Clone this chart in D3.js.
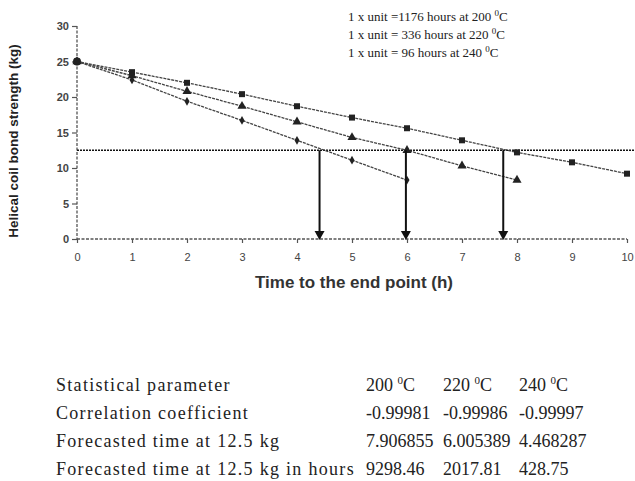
<!DOCTYPE html>
<html><head><meta charset="utf-8">
<script src="https://cdn.jsdelivr.net/npm/d3@7"></script>
<style>body{margin:0;background:#fff}svg{display:block}</style>
</head><body>
<svg id="c" width="635" height="481"></svg>
<script>
const xTicks = [0,1,2,3,4,5,6,7,8,9,10];
const yTicks = [0,5,10,15,20,25,30];
const s200 = [[0,25],[1,23.5],[2,22.0],[3,20.4],[4,18.7],[5,17.1],[6,15.6],[7,13.9],[8,12.2],[9,10.8],[10,9.2]];
const s220 = [[0,25],[1,23.0],[2,20.8],[3,18.7],[4,16.5],[5,14.3],[6,12.5],[7,10.3],[8,8.3]];
const s240 = [[0,25],[1,22.4],[2,19.4],[3,16.7],[4,13.9],[5,11.1],[6,8.3]];
const endPoint = 12.5;
const arrowX = [4.41, 5.98, 7.75];
const notes = [["1 x unit =1176 hours at 200 ","0","C"],["1 x unit = 336 hours at 220 ","0","C"],["1 x unit = 96 hours at 240 ","0","C"]];
const tableRows = [
  ["Statistical parameter","200","220","240"],
  ["Correlation coefficient","-0.99981","-0.99986","-0.99997"],
  ["Forecasted time at 12.5 kg","7.906855","6.005389","4.468287"],
  ["Forecasted time at 12.5 kg in hours","9298.46","2017.81","428.75"]
];

const svg = d3.select("#c");
const x = d3.scaleLinear().domain([0,10]).range([77,627]);
const y = d3.scaleLinear().domain([0,30]).range([239,26]);
const ink = "#222";

// axes
const ya = svg.append("g").attr("transform","translate(77,0)")
  .call(d3.axisLeft(y).tickValues(yTicks).tickSize(5).tickPadding(3));
ya.select(".domain").attr("stroke","#555").attr("stroke-dasharray","3,1.5").attr("stroke-width",1.3).attr("d","M0,26V239");
ya.selectAll(".tick line").attr("stroke","#555").attr("stroke-width",1.2);
ya.selectAll(".tick text").attr("font-family","Liberation Sans, Arial, sans-serif").attr("font-size",11).attr("fill","#444").attr("font-weight","bold");

const xa = svg.append("g").attr("transform","translate(0,239)")
  .call(d3.axisBottom(x).tickValues(xTicks).tickSize(4).tickPadding(10));
xa.select(".domain").attr("stroke","#555").attr("stroke-dasharray","3,1.5").attr("stroke-width",1.3).attr("d","M77,0H627");
xa.selectAll(".tick line").attr("stroke","#555").attr("stroke-width",1.2);
xa.selectAll(".tick text").attr("font-family","Liberation Sans, Arial, sans-serif").attr("font-size",11).attr("fill","#444");

// 12.5 line
svg.append("line").attr("x1",x(0)).attr("x2",635).attr("y1",y(endPoint)).attr("y2",y(endPoint))
  .attr("stroke","#111").attr("stroke-width",1.6).attr("stroke-dasharray","2,1");

// series lines
const line = d3.line().x(d=>x(d[0])).y(d=>y(d[1]));
[s200,s220,s240].forEach(s=>{
  svg.append("path").attr("d",line(s)).attr("fill","none").attr("stroke","#444")
    .attr("stroke-width",1.3).attr("stroke-dasharray","3,1");
});
// markers
svg.append("g").selectAll("path").data(s200).join("path")
  .attr("d",d3.symbol(d3.symbolSquare,36)).attr("transform",d=>`translate(${x(d[0])},${y(d[1])})`).attr("fill",ink);
svg.append("g").selectAll("path").data(s220).join("path")
  .attr("d",d3.symbol(d3.symbolTriangle,36)).attr("transform",d=>`translate(${x(d[0])},${y(d[1])})`).attr("fill",ink);
svg.append("g").selectAll("path").data(s240).join("path")
  .attr("d",d3.symbol(d3.symbolDiamond,22)).attr("transform",d=>`translate(${x(d[0])},${y(d[1])})`).attr("fill",ink);
svg.append("circle").attr("cx",x(0)).attr("cy",y(25)).attr("r",4).attr("fill",ink);

// arrows
arrowX.forEach(a=>{
  svg.append("line").attr("x1",x(a)).attr("x2",x(a)).attr("y1",y(endPoint)).attr("y2",y(0)-6)
    .attr("stroke","#111").attr("stroke-width",2);
  svg.append("path").attr("d",`M${x(a)-5},${y(0)-8}L${x(a)+5},${y(0)-8}L${x(a)},${y(0)+1}Z`).attr("fill","#111");
});

// axis titles
svg.append("text").attr("x",354).attr("y",288).attr("text-anchor","middle")
  .attr("font-family","Liberation Sans, Arial, sans-serif").attr("font-size",17).attr("font-weight","bold").attr("fill","#333")
  .text("Time to the end point (h)");
svg.append("text").attr("transform","translate(18,141) rotate(-90)").attr("text-anchor","middle")
  .attr("font-family","Liberation Sans, Arial, sans-serif").attr("font-size",13.5).attr("font-weight","bold").attr("fill","#222")
  .text("Helical coil bond strength (kg)");

// notes
notes.forEach((n,i)=>{
  const t = svg.append("text").attr("x",348).attr("y",21+i*18)
    .attr("font-family","Liberation Serif, Times New Roman, serif").attr("font-size",13).attr("fill","#222");
  t.append("tspan").text(n[0]);
  t.append("tspan").attr("dy",-5).attr("font-size",9).text(n[1]);
  t.append("tspan").attr("dy",5).text(n[2]);
});

// table
const colX = [56,366,443,519];
tableRows.forEach((r,i)=>{
  r.forEach((c,j)=>{
    const t = svg.append("text").attr("x",colX[j]).attr("y",391+i*28)
      .attr("font-family","Liberation Serif, Times New Roman, serif").attr("font-size",18).attr("fill","#222");
    if(j===0) t.attr("letter-spacing",1.3);
    if(i===0 && j>0){
      t.append("tspan").text(c+" ");
      t.append("tspan").attr("dy",-7).attr("font-size",11).text("0");
      t.append("tspan").attr("dy",7).text("C");
    } else t.text(c);
  });
});
</script>
</body></html>
